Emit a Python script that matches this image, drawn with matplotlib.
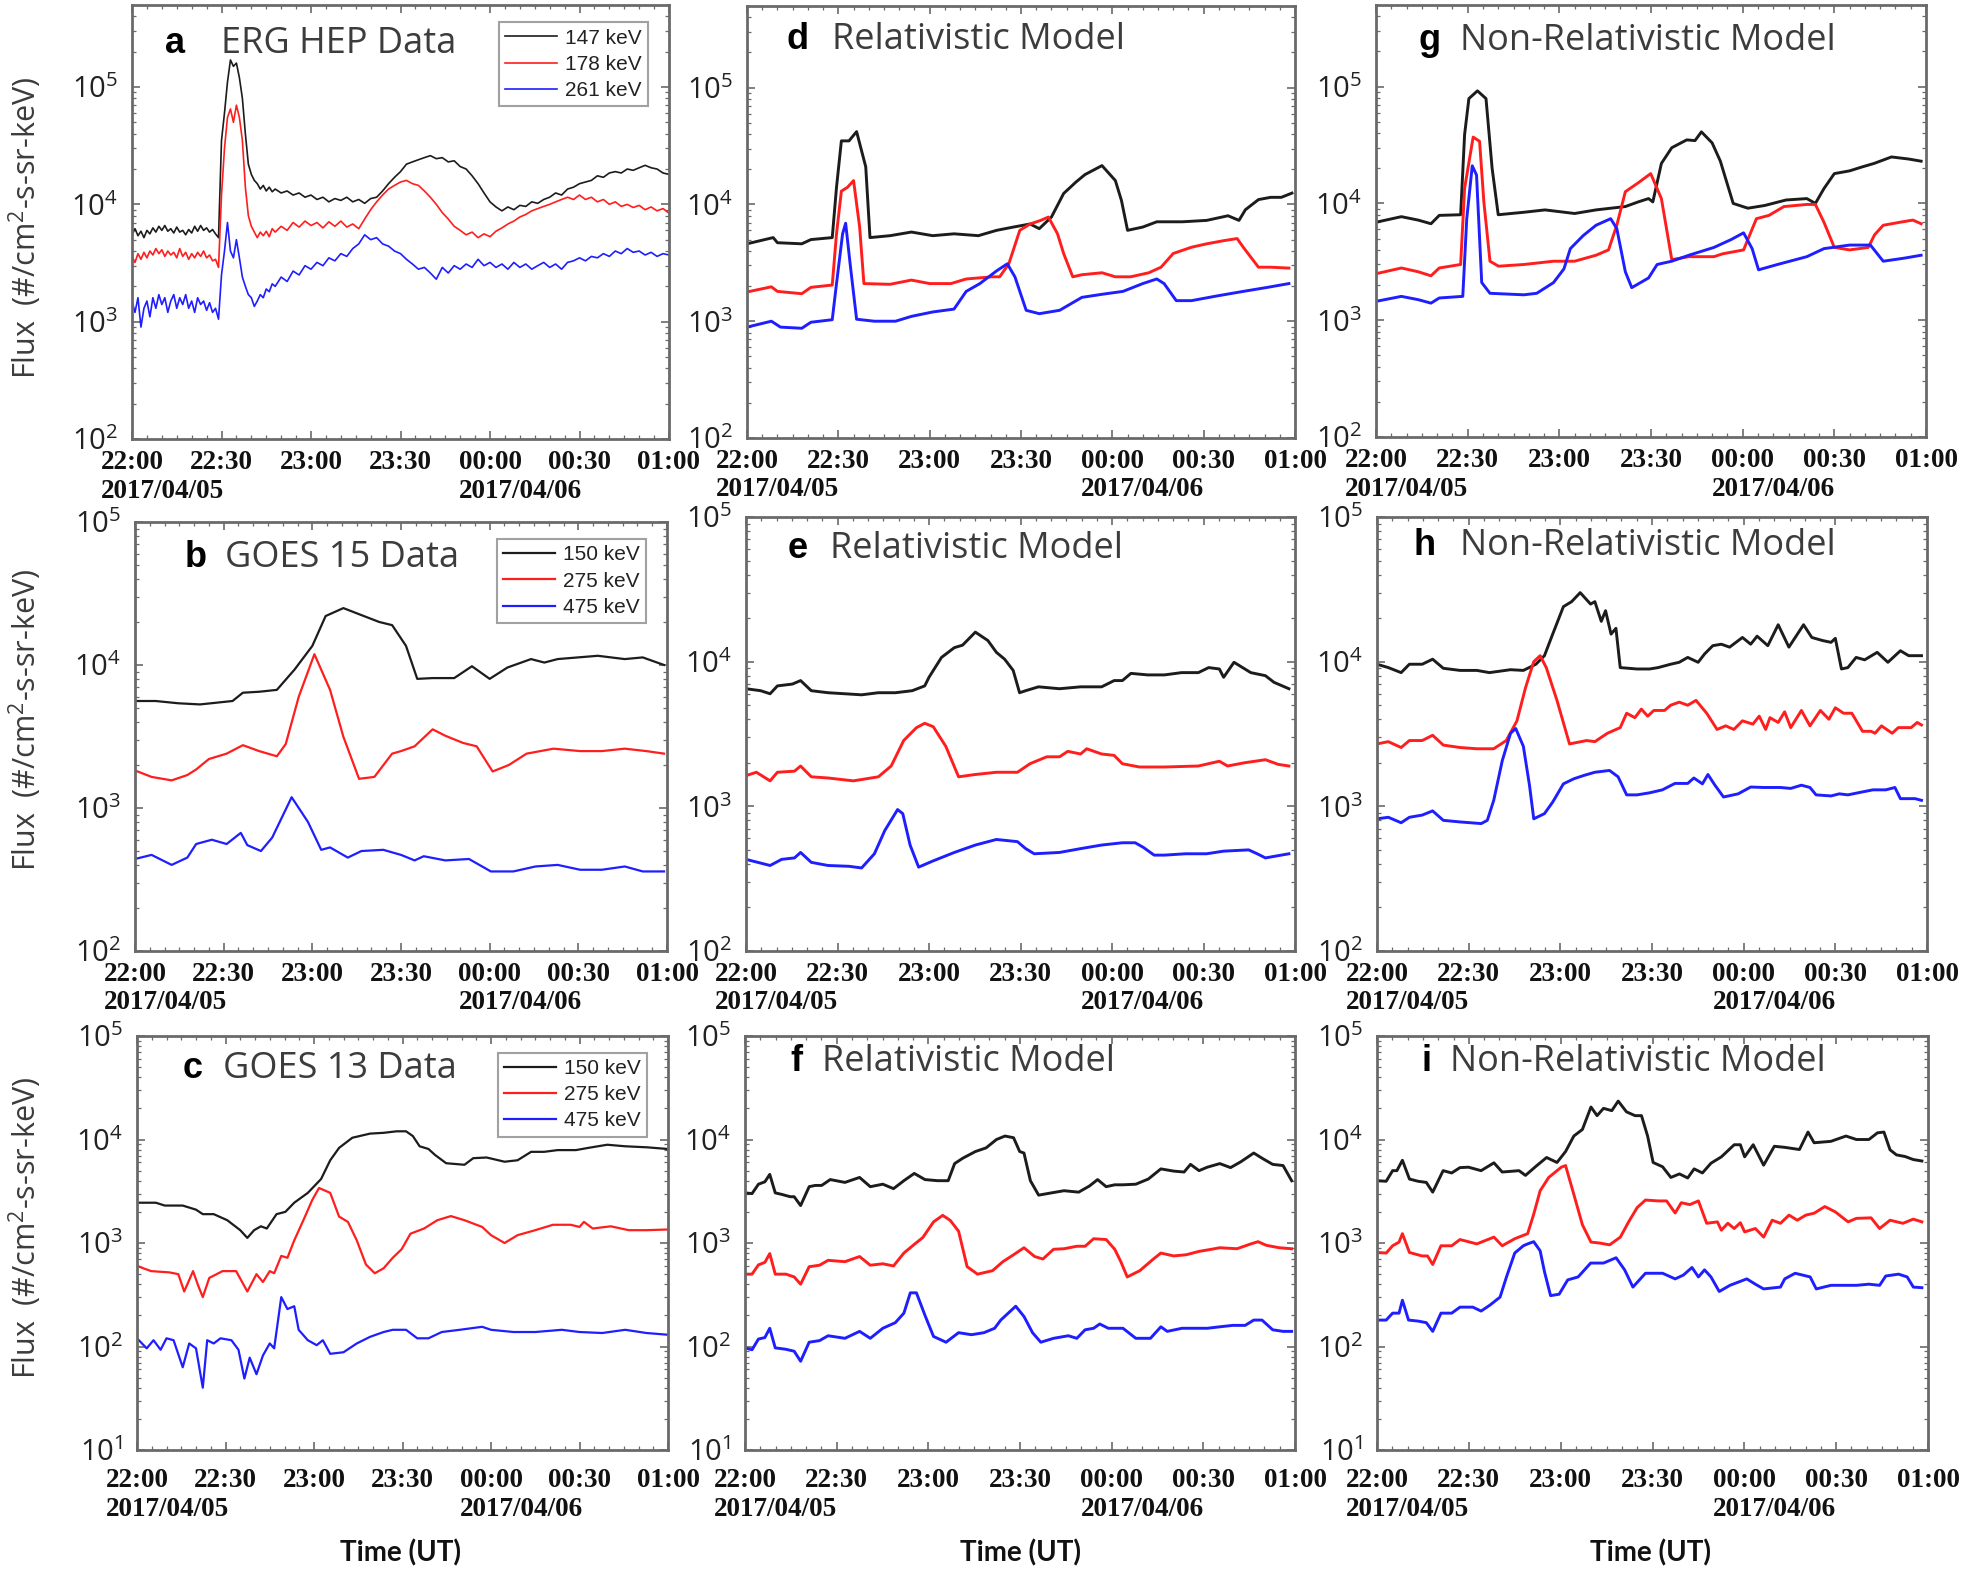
import numpy as np
import matplotlib
matplotlib.use("Agg")
import matplotlib.pyplot as plt
from matplotlib.ticker import FixedLocator, LogLocator, NullFormatter

# ---------------- DATA (time in minutes after 22:00 UT on 2017/04/05) ----------------
# Panel a: ERG HEP data (values in units of 1e3 #/cm2-s-sr-keV)
a_t = [0,1,2,3,4,5,6,7,8,9,10,11,12,13,14,15,16,17,18,19,20,21,22,23,24,25,26,27,28,29,
       30,31,32,33,34,35,36,37,38,39,40,41,42,43,44,45,46,47,48,
       50,52,54,56,58,60,62,64,66,68,70,72,74,76,78,80,82,84,86,88,90,92,94,96,98,100,
       102,104,106,108,110,112,114,116,118,120,122,124,126,128,130,132,134,136,138,140,
       142,144,146,148,150,152,154,156,158,160,162,164,166,168,170,172,174,176,178,180]
a_147k = [5.5,6.2,5.4,5.9,5.2,6.0,5.6,6.3,5.8,6.5,6.0,6.6,5.9,6.2,5.7,6.4,5.8,6.0,5.5,6.1,5.7,6.5,5.9,6.6,6.0,6.3,5.8,6.1,5.6,5.2,
          35,60,110,170,150,160,120,80,40,22,18,16,15,13.5,14.5,13,14,12.8,13.5,
          12.5,13,12,12.5,11.5,12,11,11.5,10.5,11.2,10.8,11.5,10.5,11,10.2,11.2,11.5,13,15,17,19,22,23,24,25,26,
          24.5,25,23,23.5,21,20,17.5,15,12.5,10.5,9.5,8.8,9.5,9.0,9.8,9.6,10.5,10.2,11,11.5,
          12.5,12,13.5,14,15,15.5,16,17.5,17,18.5,19,18.5,20,19.5,20.5,21.5,20.5,20,18.5,18]
a_178k = [3.6,3.2,3.8,3.4,3.9,3.5,4.0,3.7,4.2,3.8,4.1,3.6,4.0,3.7,3.9,3.5,4.2,3.6,3.9,3.4,3.8,3.5,3.9,3.6,4.0,3.5,3.7,3.3,3.4,2.9,
          12,30,55,65,50,70,55,35,14,8,6.5,5.8,5.2,5.8,5.4,5.9,5.3,6.2,5.8,
          6.5,6.0,7.0,6.4,7.2,6.6,7.0,6.3,7.1,6.5,7.2,6.4,6.8,6.2,7.5,9,10.5,12,13.5,14.5,15.5,16,15,14.5,13,11.5,
          10,8.5,7.5,6.5,6.0,5.5,5.8,5.2,5.6,5.3,5.9,6.3,6.8,7.2,7.8,8.2,8.8,9.2,9.6,10,
          10.5,11,11.5,11,12,11,11.5,10.5,11,10,10.5,9.6,10,9.4,9.8,9.0,9.5,8.8,9.2,8.4]
a_261k = [1.5,1.2,1.6,0.9,1.3,1.5,1.1,1.6,1.3,1.7,1.4,1.6,1.2,1.5,1.7,1.3,1.6,1.4,1.7,1.3,1.5,1.2,1.6,1.4,1.5,1.25,1.45,1.2,1.3,1.05,
          2.5,4,7,4,3.5,5,3.5,2.4,2.0,1.7,1.6,1.35,1.5,1.7,1.6,1.9,1.8,2.1,2.0,
          2.4,2.2,2.7,2.5,3.0,2.8,3.2,3.0,3.5,3.3,3.8,3.6,4.2,4.6,5.5,5.0,5.2,4.6,4.4,4.0,3.8,3.4,3.1,2.8,2.9,2.6,
          2.3,2.9,2.6,3.0,2.8,3.1,2.9,3.4,3.0,3.2,2.9,3.1,2.8,3.2,2.9,3.1,2.8,3.0,3.2,2.9,
          3.1,2.8,3.2,3.3,3.5,3.3,3.6,3.5,3.8,3.6,4.0,3.8,4.2,3.9,4.0,3.7,3.9,3.6,3.8,3.7]

# Panel b: GOES 15 data
b150_t = [0,7,14.6,22,33,36.5,42,48,54,60,64.5,70.5,75,82.6,87,91.7,95.5,100.7,108,114,120,126,134,138.5,143,156.6,165.7,171.8,179]
b150_v = [5600,5600,5400,5300,5600,6400,6500,6700,9300,13600,22000,25000,23000,20000,19000,13600,8000,8100,8100,9800,8000,9600,11000,10400,11000,11600,11000,11300,10000]
b275_t = [0,5.6,12.4,17.7,20.7,25,31,36.5,42,48,51,55.4,60.7,66,70.5,75.8,81,87,90,94.6,100.7,105,111,115.6,121,126.5,132.5,141.6,150.6,158,165.7,173,179]
b275_v = [1830,1650,1560,1700,1860,2200,2400,2750,2500,2300,2800,6000,11900,6700,3150,1600,1650,2400,2500,2700,3550,3200,2850,2700,1800,2000,2400,2600,2500,2500,2600,2500,2400]
b475_t = [0,5.6,12.4,17.7,20.7,26,31,35.8,38,42.6,46.4,53,58.5,63,66,72,76.6,84,90,94.6,97.7,105,113,120.4,128,135.5,143,150.6,158,165.7,171.8,179]
b475_v = [440,470,400,450,560,600,560,670,550,500,620,1190,800,510,530,450,500,510,470,430,460,430,440,360,360,390,400,370,370,390,360,360]

# Panel c: GOES 13 data
c150_t = [0,6.4,9.4,15.5,20,22.3,26,30.6,35,37.4,39.7,42,44,47.3,50.3,53.3,57.9,62.4,65.5,68.5,73,79,83.6,88,91.2,93.5,95.8,98.8,101,104.8,
          111,114,118.5,124.6,129,133.6,138,142.6,148.8,153,159.4,165.5,173,179.8]
c150_v = [2450,2450,2300,2300,2100,1900,1900,1660,1330,1120,1330,1450,1380,1900,2000,2450,3050,4150,6300,8300,10400,11400,11600,12000,12000,10800,8600,8100,7100,5900,
          5700,6600,6700,6100,6300,7600,7600,7900,7900,8300,8900,8600,8400,8100]
c275_t = [0,4.8,11,14,16,19,20.7,22.3,24.5,29,33.6,37.4,40.5,42.7,45,46.5,48.9,51,53.3,56.4,59.4,61.7,65.5,68.5,71.5,74.5,77.6,80.6,83.6,86.7,
          89.7,92.7,97.3,101.8,106.4,111,117,120,124.6,129,135,141,147,150,151.5,154.5,160.6,166.7,172.7,179.8]
c275_v = [600,535,520,500,340,535,390,300,460,535,535,340,500,420,535,510,750,720,1060,1660,2600,3400,3050,1800,1600,1060,620,510,570,720,
          870,1230,1380,1660,1820,1660,1430,1190,1000,1190,1330,1500,1500,1430,1600,1380,1450,1330,1330,1350]
c475_t = [0,3.3,5.6,8,10,12.4,15.5,17.7,20,22.3,23.8,26,28.3,32,34.4,36.4,38.2,40.5,42.7,45,46.5,48.9,51,53.3,54.8,57.9,60.9,63,65.5,70,
          74.5,79,83.6,86.7,91.2,95,98.8,103.3,109.4,117,120,127.6,135,144,150,157.7,165.5,172.7,179.8]
c475_v = [120,96,115,93,120,115,63,107,96,40,115,107,120,115,93,49,78,54,82,107,96,300,230,245,145,115,103,115,85,88,
          107,124,138,145,145,120,120,138,145,155,145,138,138,145,138,135,145,135,130]

# Panel d: relativistic model (ERG)
d_blk_t = [0,8.6,10,18,21,28,29.4,31,33.5,36,39,40.4,47,54,61,68,76,82,87.5,93,96,100,104,108,111,116.6,121,123,125,130,
           134.6,143,151,158,161.6,163.7,168,172,175.5,179]
d_blk_v = [4600,5200,4700,4600,5000,5200,14000,35000,35000,42000,21000,5200,5400,5800,5400,5600,5400,6000,6400,6800,6200,7800,12400,15500,18000,21500,16000,10800,6000,6400,
           7100,7100,7300,8000,7300,9000,11000,11500,11500,12500]
d_red_t = [0,8,10,18,21,28,29.4,31,33,35,37,38.4,47,54,60,67,72,80.6,83,86,89.6,93,96.5,99,102,104,107,110,116.6,121,
           126,132,136,140,146,151,156.7,161,163,168,172,178]
d_red_v = [1780,1970,1800,1720,1950,2040,5600,13000,14000,16000,6400,2100,2070,2250,2100,2100,2300,2400,2400,3100,6000,6800,7300,7800,5600,3800,2400,2500,2600,2400,
           2400,2600,2900,3800,4300,4600,4900,5100,4300,2900,2900,2850]
d_blu_t = [0,8,11,18,21,28,29.4,31.4,32.4,34,36,41.8,48.8,54,61,68,72,76.5,82,85.5,88,91.7,96,102.7,110,116.6,123.5,130,134.6,137,
           141,146,154.6,163,171,178]
d_blu_v = [890,1000,890,870,980,1030,2100,5600,6900,2900,1040,1000,1000,1100,1200,1270,1800,2100,2700,3100,2400,1240,1160,1240,1600,1700,1800,2100,2300,2100,
           1500,1500,1650,1800,1950,2100]

# Panel e: relativistic model (GOES 15)
e_blk_t = [0,4.8,7.9,10.3,15.2,17.9,21.4,26.9,32.4,37.9,43.4,49,54.5,58.6,60,64.1,68.3,71,75.2,79.3,82.1,84.8,87.6,89.7,91.7,95.9,102.8,109.7,116.6,120.7,
           123.4,126.2,131.7,137.2,142.8,148.3,151.7,155.2,156.6,160,165.5,170.3,173.1,178]
e_blk_v = [6500,6300,6000,6800,7000,7400,6300,6100,6000,5900,6100,6100,6300,6800,7800,10700,12500,13000,16000,14000,11600,10400,8700,6100,6300,6700,6500,6700,6700,7400,
           7400,8300,8100,8100,8400,8400,9100,8900,7800,9900,8400,8000,7200,6500]
e_red_t = [0,3.4,7.9,10.3,15.9,17.9,21.4,26.9,35.2,43.4,47.6,51.7,55.9,58.6,61.4,65.5,69.7,75.2,82.1,89,93.1,98.6,102.8,105.5,109.7,111.7,116.6,120.7,123.4,129,
           137.2,148.3,155.2,157.9,163.4,170.3,174.5,178]
e_red_v = [1630,1720,1500,1720,1750,1900,1600,1570,1500,1600,1900,2850,3500,3750,3550,2600,1600,1660,1720,1720,1970,2200,2200,2400,2300,2500,2300,2250,1970,1870,
           1870,1900,2050,1900,2000,2100,1950,1900]
e_blu_t = [0,7.9,11.7,15.9,17.9,21.4,26.9,33.8,37.9,42.1,45.5,49.7,51.4,53.8,56.6,61.4,68.3,75.2,82.1,89,91.7,94.5,102.8,109.7,116.6,123.4,127.6,130.3,133.8,137.2,
           144.1,151,156.6,164.8,167.6,170.3,178]
e_blu_v = [430,390,430,440,480,410,390,385,375,470,680,950,890,540,380,420,480,540,590,570,510,470,480,510,540,560,560,520,460,460,
           470,470,490,500,470,440,470]

# Panel f: relativistic model (GOES 13)
f_blk_t = [0,2.3,4.4,6.5,8.1,9.9,12,14.8,16.1,18.2,21,23,25.1,27.9,32.7,37.5,41,45.1,48.6,52,55.4,58.9,63,66.5,68.6,71.3,75.4,78.9,82.3,85.1,
           87.9,89.9,91.3,93.4,96.1,100.3,104.4,109.2,112.7,115.4,118.2,121,123.7,127.9,132,136.1,140.3,143.7,145.8,148.6,
           151.3,155.4,158.9,162.3,166.5,169.2,172.7,176.1,178.9]
f_blk_v = [3050,3000,3700,3900,4600,3050,2950,2800,2800,2300,3500,3600,3600,4100,3850,4300,3500,3700,3350,4000,4700,4100,4000,4000,5850,6600,7650,8300,10000,10800,
           10400,7650,7400,4000,2900,3050,3200,3100,3550,4100,3500,3650,3650,3700,4150,5200,4950,4850,5750,5000,
           5400,5850,5350,6100,7400,6600,5750,5600,4000]
f_red_t = [0,2.3,4.4,6.5,8.1,9.9,13.4,16.1,18.2,21,24.4,27.2,32.7,37.5,41,45.1,48.6,52,55.4,58.2,61.7,64.7,67.2,69.9,72.7,76.1,81,84.4,87.9,91.3,
           94.8,97.5,101,104.4,108.6,111.3,114.1,118.2,121,123,125.1,129.2,133.4,136.1,140.3,144.4,148.6,152.7,155.4,161,
           165.1,167.9,170.6,174.8,178.9]
f_red_v = [500,500,615,650,790,500,500,470,400,590,610,680,660,740,610,630,600,800,970,1130,1600,1850,1650,1300,590,500,540,660,770,900,
           740,700,870,880,930,930,1100,1080,870,660,470,540,690,800,750,770,830,870,900,880,
           970,1030,950,900,880]
f_blu_t = [0,2.3,4.4,6.5,8.1,9.9,13.4,16.1,18.2,21,24.4,27.2,32.7,37.5,41,45.1,49.2,52,54.1,56.1,58.9,61.7,65.8,69.9,74.1,78.2,81.7,83.7,88.6,91.3,
           94.1,96.8,101,105.8,108.6,111.3,114.1,116.1,118.9,123.7,127.9,132.7,136.1,138.2,143,147.2,151.3,155.4,159.6,163.7,
           166.5,169.2,172.7,176.1,178.9]
f_blu_v = [97,93,118,122,150,97,94,90,72,110,114,127,120,140,120,150,170,210,330,330,200,125,110,136,130,136,150,180,245,195,
           136,110,120,127,120,145,150,165,150,150,120,120,155,140,150,150,150,155,160,160,
           180,180,145,140,140]

# Panel g: non-relativistic model (ERG)
g_blk_t = [0,8.3,13.8,18,20.7,27.7,29,30.4,33.2,36,38,40,48.4,55.3,65,72,81.6,85.8,89.2,90.6,93.4,96.8,101.7,104.4,106.5,110,112.7,116.9,121.7,127.2,
           134.2,141,143.8,146.6,150,155,159,163,168.7,174.3,178.4]
g_blk_v = [6900,7700,7200,6700,7900,8000,39000,79000,92000,79000,20000,8000,8400,8800,8200,8800,9400,10300,11000,10300,22000,30000,35000,34500,41000,33000,23000,10000,9100,9600,
           10700,11000,10000,13400,18000,19000,20500,22000,25000,24000,23000]
g_red_t = [0,8.3,13.8,18,20.7,27.7,29,31.8,33.9,35.3,37.3,40.1,48.4,58.1,65,72,76.1,78.8,81.6,85.8,89.9,93.4,96.8,102.4,110.6,113.4,120.3,124.5,128.6,133.5,
           141,143.8,146.6,150,155,161.1,163.2,166,171.5,175.7,178.4]
g_red_v = [2500,2800,2600,2400,2800,3000,13500,37000,34000,10300,3200,2900,3000,3200,3200,3600,4000,6500,12600,15000,18000,11000,3300,3500,3500,3700,4000,7400,7900,9400,
           9800,9800,6900,4200,4000,4200,5400,6500,6900,7200,6700]
g_blu_t = [0,8.3,13.8,18,20.7,28.4,29.7,31.5,32.9,34.6,37.3,48.4,52.6,58.1,61.5,63.6,67.8,72,76.8,78.8,81.6,83.7,89.2,92,96.8,102.4,110.6,116.2,120.3,123.1,
           125.2,131.4,141,146.6,155,161.8,166,172.9,178.4]
g_blu_v = [1450,1600,1500,1400,1550,1600,7400,21000,17500,2100,1700,1650,1700,2100,2750,4100,5300,6500,7400,6100,2600,1900,2300,3000,3200,3600,4200,4900,5600,4100,
           2700,3000,3500,4100,4400,4400,3200,3400,3600]

# Panel h: non-relativistic model (GOES 15)
h_blk_t = [0,3.7,7.9,10.6,14.8,18.2,21.7,27.2,32.7,36.8,43.7,47.9,52,54.8,57.5,61,63.7,66.5,69.9,71.3,73.4,74.8,76.6,78.2,79.6,85.1,89.2,92,96.1,98.9,
           101.7,105.1,107.2,109.9,112.7,115.4,119.6,122.3,124.4,127.9,131.3,134.8,139.6,142.3,145.8,148.6,150,152,154.1,156.8,
           159.6,163.7,167.2,171.3,174,178.2]
h_blk_v = [9600,9100,8400,9600,9600,10400,9000,8700,8700,8400,8800,8700,9600,11000,15500,24000,26000,30000,25000,26000,19000,22500,15500,17000,9100,8900,8900,9100,9600,9900,
           10700,9900,11300,12900,13200,12600,14700,13200,15000,12900,18000,12600,18000,14700,14000,13600,14500,8900,9100,10700,
           10300,11600,9900,11900,11000,11000]
h_red_t = [0,3.7,7.9,10.6,14.8,18.2,21.7,27.2,32.7,38.2,42.3,45.8,48.6,51.3,53.4,55.4,58.9,63,68.6,71.3,75.4,79.6,81.7,84.4,86.5,88.6,90.6,94.1,96.1,98.9,
           101.7,104.4,107.9,111.3,114.1,116.8,119.6,123,125.1,127.2,128.6,131.3,133.4,135.4,138.9,141.7,145.1,147.9,150,152.7,
           155.4,158.9,161.7,163,165.1,168.6,170.6,174.8,176.8,178.2]
h_red_v = [2700,2800,2550,2850,2850,3100,2650,2550,2500,2500,2850,3900,6600,10000,11000,9100,5400,2700,2850,2800,3200,3500,4400,4100,4700,4200,4600,4600,5000,5250,
           5000,5400,4400,3400,3600,3400,3900,3700,4200,3400,4100,3800,4500,3500,4600,3600,4600,4000,4800,4400,
           4400,3300,3300,3200,3600,3200,3500,3500,3800,3650]
h_blu_t = [0,3.7,7.9,10.6,14.8,18.2,21.7,27.2,34.1,36.1,38.2,41,43.7,45.4,47.9,49.9,51.3,54.8,57.5,61,64.4,67.9,71.3,76.1,78.9,81.7,85.1,89.2,93.4,97.5,
           101.7,103.7,106.5,108.3,110.6,113.4,118.2,122.3,126.5,132,135.4,138.9,141.7,143.7,148.6,151.3,154.1,158.2,162.3,166.5,
           169.5,171.3,176.1,178.2]
h_blu_v = [820,840,770,840,870,930,800,780,760,800,1100,2070,3200,3450,2600,1400,820,890,1070,1430,1550,1640,1720,1770,1600,1200,1200,1240,1300,1440,
           1440,1570,1430,1660,1400,1160,1220,1360,1350,1350,1330,1400,1350,1200,1180,1220,1200,1250,1300,1300,
           1350,1130,1130,1100]

# Panel i: non-relativistic model (GOES 13)
i_blk_t = [0,3,5.1,6.5,8.3,10.6,13.4,16.1,18.2,21.6,24.4,27.1,29.9,34,38.2,40.9,46.4,48.5,51.9,55.4,58.8,61.6,64.3,67.1,69.9,71.9,74,76.7,78.8,81.5,
           84.3,86.4,88.4,90.2,93.3,96,98.8,101.5,103.6,106.3,109.1,112.5,116.7,118.7,120.1,122.9,126.3,129.8,133.2,138,
           140.8,142.8,148.3,153.2,156.6,160.7,163.5,165.6,167.6,169.7,172.5,175.2,178]
i_blk_v = [4000,3950,5000,5000,6300,4150,3950,3850,3100,5000,4750,5350,5400,5000,5950,4850,5000,4500,5500,6700,6000,7650,10800,12500,20600,17000,20000,19000,23500,18500,
           17000,17000,10800,6000,5450,4300,4650,4250,5200,4750,5900,6800,8900,8900,6800,8900,5650,8600,8400,8000,
           11800,9300,9600,10800,10000,10000,11600,11800,7950,7100,6850,6400,6200]
i_red_t = [0,3,5.1,7.2,8.3,10.6,14.7,16.5,18.2,20.9,24.4,27.1,32.6,38.2,40.9,45,49.2,51.2,53.3,56.1,60.2,61.6,64.3,67.1,69.9,72.6,76,79.5,82.2,85,
           87.7,91.9,94.6,97.4,99.4,102.2,105,107.7,111.2,112.5,114.6,116.7,118.7,120.1,123.6,126.3,129.1,131.8,134.6,137.3,
           140.1,142.8,146.3,149.7,153.9,156.6,161.4,164.2,167.6,171.8,175.2,178]
i_red_v = [810,800,940,1020,1230,810,750,750,620,940,940,1080,980,1140,940,1100,1230,1900,3200,4300,5400,5600,2950,1500,1020,1000,960,1140,1600,2200,
           2600,2550,2550,1950,2450,2350,2550,1550,1600,1330,1550,1380,1570,1280,1380,1140,1660,1550,1860,1660,
           1860,1940,2250,2000,1600,1730,1750,1380,1660,1550,1700,1600]
i_blu_t = [0,3,5.1,7.2,8.3,10.3,13.4,16.1,18.2,20.9,24.4,27.1,31.3,34,36.8,40.2,42.3,45,47.8,49.2,51.2,53.3,54.7,56.7,59.5,62.3,65.7,69.8,74,78.1,
           80.9,83.6,87.7,93.3,97.4,100.1,102.9,105,107,109.1,111.8,115.3,120.8,123.6,126.3,131.8,133.2,136.6,141.5,143.5,
           148.3,153.9,156.6,160.7,164.2,166.2,170.4,173.2,175.2,178]
i_blu_v = [180,180,210,210,280,180,176,170,140,210,210,240,240,220,250,300,470,800,940,980,1030,840,530,310,320,440,470,640,640,720,
           550,375,510,510,450,490,580,470,550,470,340,390,450,400,360,375,450,510,470,360,
           390,390,390,400,390,480,500,470,375,370]

# labels
time_ticks = [0, 30, 60, 90, 120, 150, 180]
time_labels = ['22:00', '22:30', '23:00', '23:30', '00:00', '00:30', '01:00']
date_labels = ['2017/04/05', '2017/04/06']
legend_erg = ['147 keV', '178 keV', '261 keV']
legend_goes = ['150 keV', '275 keV', '475 keV']

# ---------------- FIGURE ----------------
W, H = 1961, 1574
fig = plt.figure(figsize=(W / 100, H / 100), dpi=100)

BLK, RED, BLU = '#1c1c1c', '#ff1e1e', '#1e1eff'
SPINE = '#6a6a6a'
TXT = '#3c3c3c'
SANS = ['Open Sans', 'DejaVu Sans']
TICKF = ['Liberation Serif', 'DejaVu Serif']

def rect(l, t, r, b):
    return [l / W, 1 - b / H, (r - l) / W, (b - t) / H]

def setup(ax, ylo, yhi, decades, xpad, date_dy):
    ax.set_yscale('log')
    ax.set_xlim(0, 180)
    ax.set_ylim(ylo, yhi)
    ax.xaxis.set_major_locator(FixedLocator(time_ticks))
    ax.xaxis.set_minor_locator(FixedLocator([m for m in range(5, 180, 5) if m % 30]))
    ax.set_xticklabels(time_labels, fontfamily=TICKF, fontweight='bold', fontsize=19.5, color='#111111')
    ax.yaxis.set_major_locator(FixedLocator([10.0 ** d for d in decades]))
    ax.yaxis.set_minor_locator(LogLocator(base=10, subs=range(2, 10), numticks=20))
    ax.yaxis.set_minor_formatter(NullFormatter())
    ax.set_yticklabels([r'$\mathregular{10^{%d}}$' % d for d in decades],
                       fontfamily=SANS, fontsize=21, color='#222222')
    ax.tick_params(axis='both', which='both', direction='in', top=True, right=True, color=SPINE)
    ax.tick_params(axis='both', which='major', length=6, width=1.2)
    ax.tick_params(axis='both', which='minor', length=3, width=0.9)
    ax.tick_params(axis='x', which='major', pad=xpad)
    ax.tick_params(axis='y', which='major', pad=10)
    for s in ax.spines.values():
        s.set_color(SPINE)
        s.set_linewidth(2.0)
    for xt, dl in zip([0, 120], date_labels):
        ax.annotate(dl, xy=(xt, 0), xycoords=('data', 'axes fraction'), xytext=(-31, date_dy),
                    textcoords='offset pixels', ha='left', va='center',
                    fontfamily=TICKF, fontweight='bold', fontsize=19.5, color='#111111')

panels = [
    # key, rect, ylim, decades, letter(x,baseline), title x, title text, series, lw, legend, xpad, date offset
    ('a', (132, 5, 669, 439), (1e2, 5e5), [2, 3, 4, 5], (165, 53), 221, 'ERG HEP Data',
     [(a_t, [v * 1e3 for v in a_147k], BLK), (a_t, [v * 1e3 for v in a_178k], RED), (a_t, [v * 1e3 for v in a_261k], BLU)], 1.2, legend_erg, 8, -52),
    ('b', (135, 522, 667, 951), (1e2, 1e5), [2, 3, 4, 5], (185, 567), 225, 'GOES 15 Data',
     [(b150_t, b150_v, BLK), (b275_t, b275_v, RED), (b475_t, b475_v, BLU)], 1.6, legend_goes, 8, -52),
    ('c', (137, 1036, 668, 1450), (1e1, 1e5), [1, 2, 3, 4, 5], (183, 1078), 223, 'GOES 13 Data',
     [(c150_t, c150_v, BLK), (c275_t, c275_v, RED), (c475_t, c475_v, BLU)], 1.6, legend_goes, 13, -60),
    ('d', (747, 6, 1295, 438), (1e2, 5e5), [2, 3, 4, 5], (786, 49), 832, 'Relativistic Model',
     [(d_blk_t, d_blk_v, BLK), (d_red_t, d_red_v, RED), (d_blu_t, d_blu_v, BLU)], 2.1, None, 8, -52),
    ('e', (746, 517, 1295, 951), (1e2, 1e5), [2, 3, 4, 5], (788, 558), 830, 'Relativistic Model',
     [(e_blk_t, e_blk_v, BLK), (e_red_t, e_red_v, RED), (e_blu_t, e_blu_v, BLU)], 2.1, None, 8, -52),
    ('f', (745, 1036, 1295, 1450), (1e1, 1e5), [1, 2, 3, 4, 5], (790, 1071), 822, 'Relativistic Model',
     [(f_blk_t, f_blk_v, BLK), (f_red_t, f_red_v, RED), (f_blu_t, f_blu_v, BLU)], 2.1, None, 13, -60),
    ('g', (1376, 5, 1926, 437), (1e2, 5e5), [2, 3, 4, 5], (1418, 50), 1460, 'Non-Relativistic Model',
     [(g_blk_t, g_blk_v, BLK), (g_red_t, g_red_v, RED), (g_blu_t, g_blu_v, BLU)], 2.1, None, 8, -52),
    ('h', (1377, 517, 1927, 951), (1e2, 1e5), [2, 3, 4, 5], (1414, 555), 1460, 'Non-Relativistic Model',
     [(h_blk_t, h_blk_v, BLK), (h_red_t, h_red_v, RED), (h_blu_t, h_blu_v, BLU)], 2.1, None, 8, -52),
    ('i', (1377, 1036, 1928, 1450), (1e1, 1e5), [1, 2, 3, 4, 5], (1422, 1071), 1450, 'Non-Relativistic Model',
     [(i_blk_t, i_blk_v, BLK), (i_red_t, i_red_v, RED), (i_blu_t, i_blu_v, BLU)], 2.1, None, 13, -60),
]

for key, (l, t, r, b), ylim, dec, (lx, by), tx, title, series, lw, leg, xpad, ddy in panels:
    ax = fig.add_axes(rect(l, t, r, b))
    for (xs, ys, col), lab in zip(series, leg if leg else [None] * 3):
        ax.plot(xs, ys, color=col, lw=lw, label=lab, solid_joinstyle='round')
    setup(ax, ylim[0], ylim[1], dec, xpad, ddy)
    fig.text(lx / W, 1 - by / H, key, fontfamily=['Liberation Sans', 'DejaVu Sans'],
             fontweight='bold', fontsize=26, color='black', ha='left', va='baseline')
    fig.text(tx / W, 1 - by / H, title, fontfamily=SANS, fontsize=26, color=TXT,
             ha='left', va='baseline')
    if leg:
        lg = ax.legend(loc='upper right', bbox_to_anchor=(0.96, 0.96), frameon=True, fancybox=False,
                       prop={'family': ['Liberation Sans', 'DejaVu Sans'], 'size': 15},
                       handlelength=2.5, handletextpad=0.35, borderpad=0.3, labelspacing=0.35,
                       borderaxespad=0.0)
        lg.get_frame().set_edgecolor('#8a8a8a')
        lg.get_frame().set_linewidth(1.5)
        for txt in lg.get_texts():
            txt.set_color('#222222')

# y labels (left column)
for yc in [228, 720, 1228]:
    fig.text(25 / W, 1 - yc / H, r'Flux  (#/cm$\mathregular{^2}$-s-sr-keV)', rotation=90,
             fontfamily=SANS, fontsize=22, color=TXT, ha='center', va='center')

# x labels (bottom row)
for xc in [401, 1020, 1651]:
    fig.text(xc / W, 1 - 1553 / H, 'Time (UT)', fontfamily=['Lato', 'DejaVu Sans'],
             fontweight='bold', fontsize=20, color='#111111', ha='center', va='center')

fig.savefig('out.png', dpi=100, facecolor='white')
